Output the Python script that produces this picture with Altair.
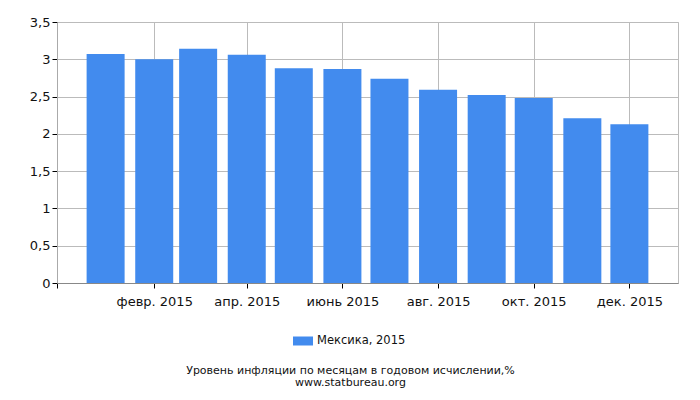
import altair as alt
import pandas as pd

# Data
months = ["2015/01/01", "2015/02/01", "2015/03/01", "2015/04/01", "2015/05/01", "2015/06/01",
          "2015/07/01", "2015/08/01", "2015/09/01", "2015/10/01", "2015/11/01", "2015/12/01"]
values = [3.07, 3.00, 3.14, 3.06, 2.88, 2.87, 2.74, 2.59, 2.52, 2.48, 2.21, 2.13]
series = "Мексика, 2015"
month_names = ["янв.", "февр.", "март", "апр.", "май", "июнь",
               "июль", "авг.", "сент.", "окт.", "нояб.", "дек."]
tick_months = [(2014, 12), (2015, 2), (2015, 4), (2015, 6), (2015, 8), (2015, 10), (2015, 12)]
y_ticks = [0, 0.5, 1, 1.5, 2, 2.5, 3, 3.5]

df = pd.DataFrame({"month": months, "value": values, "series": [series] * len(months)})

names_expr = "[" + ",".join("'" + n + "'" for n in month_names) + "]"
x_label_expr = (
    "year(datum.value) < 2015 ? '' : " + names_expr + "[month(datum.value)] + ' ' + year(datum.value)"
)

font = "DejaVu Sans"

chart = alt.Chart(df).mark_bar(size=38).encode(
    x=alt.X(
        "month:T",
        scale=alt.Scale(domain=[alt.DateTime(year=2014, month=12, date=1),
                                alt.DateTime(year=2016, month=1, date=1)],
                        padding=0),
        axis=alt.Axis(
            title=None,
            values=[alt.DateTime(year=y, month=m, date=1) for y, m in tick_months],
            labelExpr=x_label_expr,
            grid=True,
            gridColor="#bbbbbb",
            domainColor="#888888",
            tickColor="#000000",
            tickSize=5,
            labelFont=font,
            labelFontSize=13,
            labelColor="#111111",
            labelPadding=7,
        ),
    ),
    y=alt.Y(
        "value:Q",
        scale=alt.Scale(domain=[0, 3.5]),
        axis=alt.Axis(
            title=None,
            values=y_ticks,
            labelExpr="replace(format(datum.value, '~g'), '.', ',')",
            grid=True,
            gridColor="#bbbbbb",
            domainColor="#aaaaaa",
            tickColor="#000000",
            tickSize=5,
            labelFont=font,
            labelFontSize=13,
            labelColor="#111111",
            labelPadding=2,
        ),
    ),
    color=alt.Color(
        "series:N",
        scale=alt.Scale(range=["#428bee"]),
        legend=alt.Legend(
            title=None,
            orient="none",
            legendX=236,
            legendY=309,
            padding=0,
            symbolType="M-1,-0.45L1,-0.45L1,0.45L-1,0.45Z",
            symbolSize=400,
            symbolStrokeWidth=0,
            labelFont=font,
            labelFontSize=11.5,
            labelColor="#111111",
        ),
    ),
).properties(
    width=621,
    height=261,
    autosize=alt.AutoSizeParams(type="none"),
    padding={"left": 49, "top": 14, "right": 14, "bottom": 109},
    title=alt.TitleParams(
        text=["Уровень инфляции по месяцам в годовом исчислении,%", "www.statbureau.org"],
        orient="bottom",
        anchor="middle",
        font=font,
        fontSize=11,
        fontWeight="normal",
        color="#111111",
        lineHeight=12,
        offset=18,
        dx=-17,
    ),
).configure_view(stroke="#bbbbbb")

chart.save("out.html", embed_options={"renderer": "svg", "actions": False})
